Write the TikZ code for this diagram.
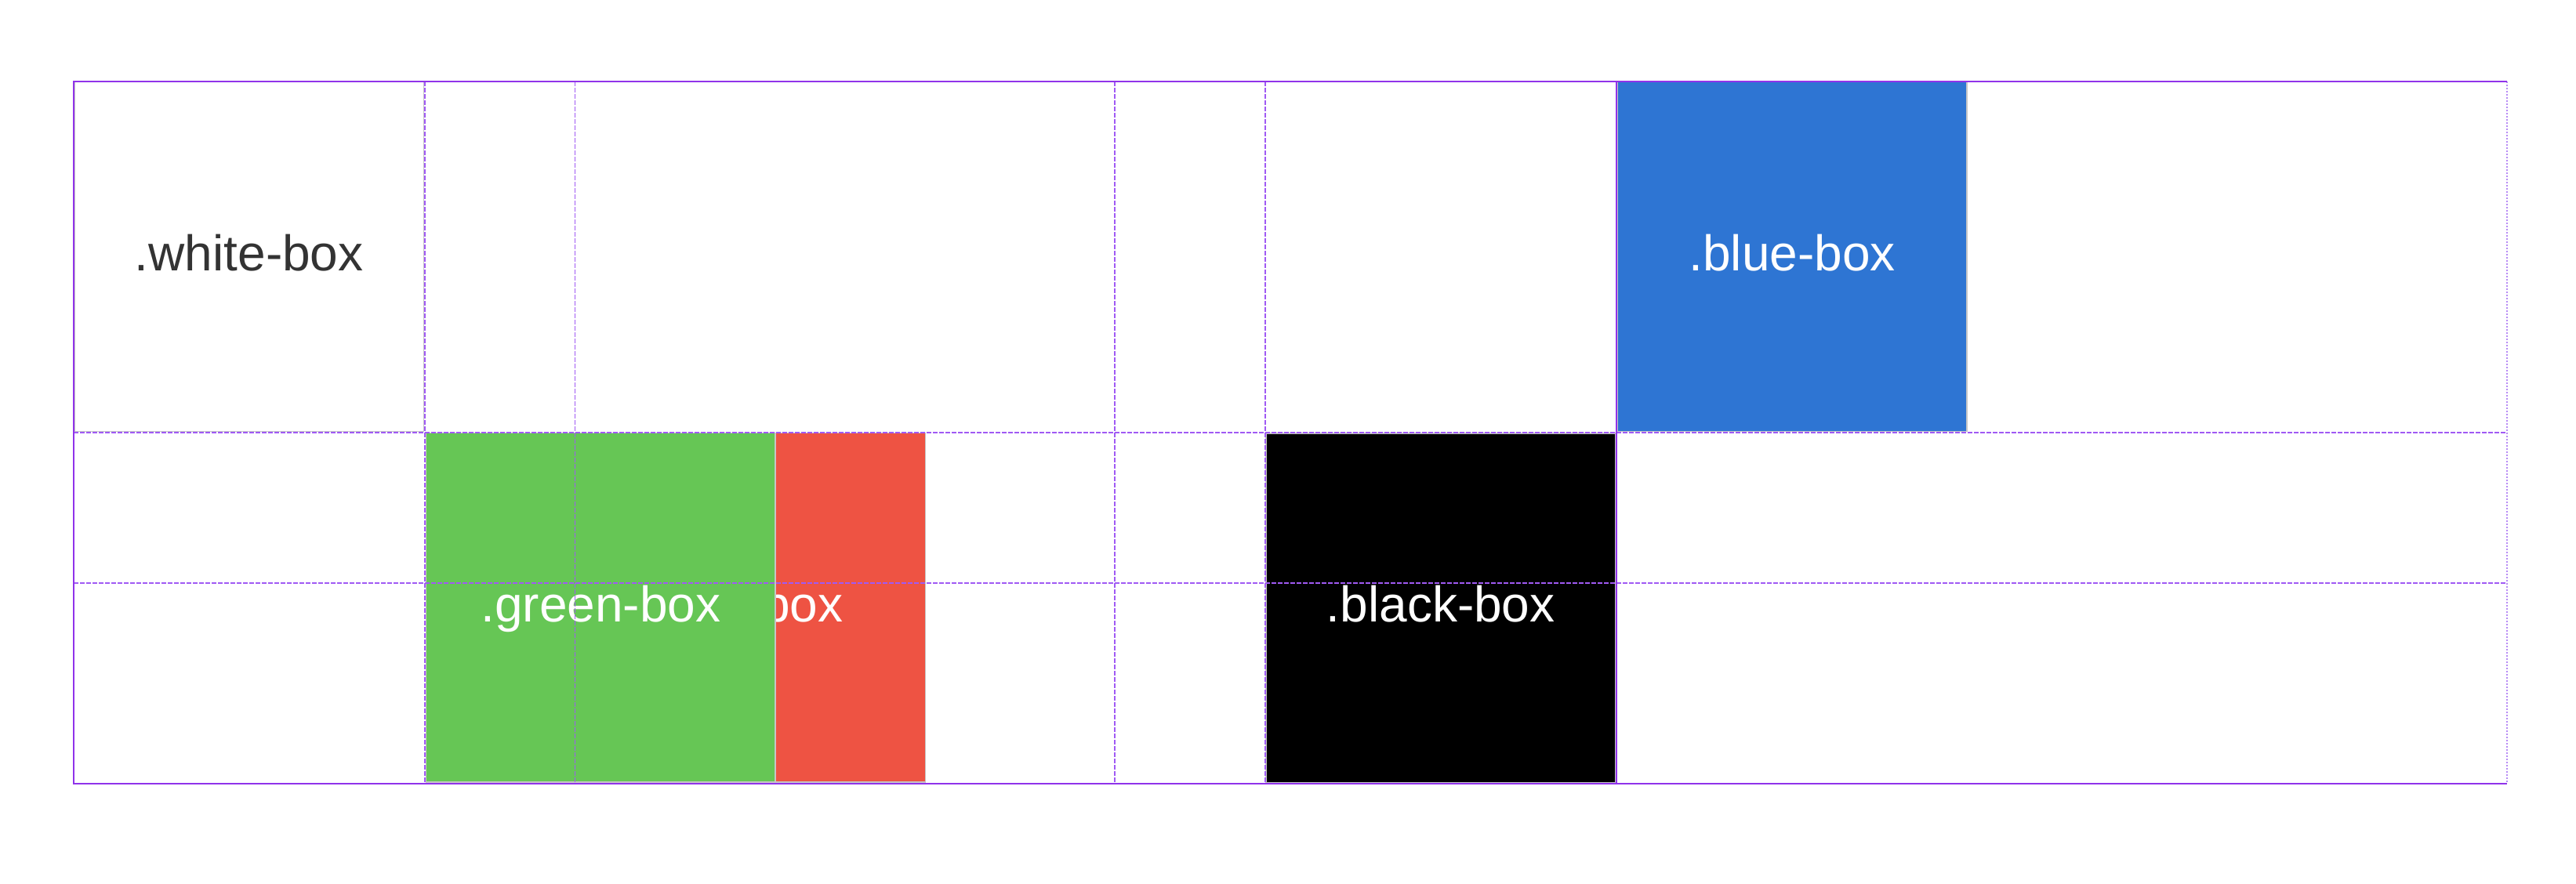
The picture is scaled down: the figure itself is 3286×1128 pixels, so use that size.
\documentclass[tikz,border=0pt]{standalone}
\usepackage{fontspec}
\setmainfont{Liberation Sans}
\definecolor{gridsolid}{HTML}{9033EA}
\definecolor{griddash}{HTML}{A05AF4}
\definecolor{griddot}{HTML}{B88CF5}
\definecolor{boxline}{HTML}{C6C6C6}
\definecolor{boxgreen}{HTML}{66C655}
\definecolor{boxred}{HTML}{EE5343}
\definecolor{boxblue}{HTML}{2E75D3}
\definecolor{textdark}{HTML}{333333}
\begin{document}
\begin{tikzpicture}[x=0.5pt,y=-0.5pt,
  cssbox/.style={draw=boxline, line width=0.75pt, minimum width=222.75pt, minimum height=222.75pt, inner sep=0pt, outer sep=0pt},
  lbl/.style={anchor=base, font=\fontsize{32}{38}\selectfont, inner sep=0pt, text=white},
  solidline/.style={draw=gridsolid, line width=1pt},
  dashline/.style={draw=griddash, line width=0.85pt, dash pattern=on 2.8pt off 1.2pt},
  dotline/.style={draw=griddot, line width=1pt, dash pattern=on 1pt off 1pt}]
\useasboundingbox[fill=white] (0,0) rectangle (3286,1128);
% grid coordinates
\coordinate (c0) at (94,104);
\coordinate (c6) at (3198,1000);
% boxes
\node[cssbox, fill=white] (white) at (317.7,327.5) {};
\node[lbl, text=textdark] (whitelbl) at (317.7,346) {.white-box};
\node[cssbox, fill=boxred] (red) at (957.8,775.3) {};
\node[lbl] (redlbl) at (957.8,793.5) {.red-box};
\node[cssbox, fill=boxgreen] (green) at (766.3,775.3) {};
\node[lbl] (greenlbl) at (766.3,793.5) {.green-box};
\node[cssbox, fill=black] (blackbox) at (1837.7,775.5) {};
\node[lbl] (blacklbl) at (1837.7,793.5) {.black-box};
\node[cssbox, fill=boxblue] (blue) at (2286.2,327.5) {};
\node[lbl] (bluelbl) at (2286.2,346) {.blue-box};
% dashed grid lines
\foreach \gx in {542,733.5,1422,1614}
  \path[dashline] (\gx,104) -- (\gx,1000);
\foreach \gy in {552,744}
  \path[dashline] (94,\gy) -- (3198,\gy);
% dotted right edge
\path[dotline] (3198,104) -- (3198,1000);
% solid lines
\path[solidline] (3198,104) -- (c0) -- (94,1000) -- (3198,1000);
\path[solidline] (2062,104) -- (2062,1000);
\end{tikzpicture}
\end{document}
